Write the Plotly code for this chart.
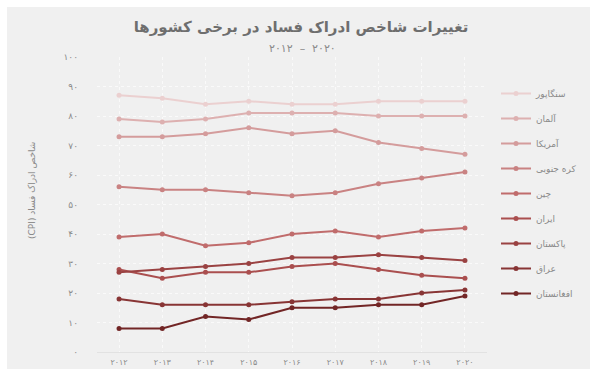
import plotly.graph_objects as go

years = [2012, 2013, 2014, 2015, 2016, 2017, 2018, 2019, 2020]
year_labels = ["۲۰۱۲", "۲۰۱۳", "۲۰۱۴", "۲۰۱۵", "۲۰۱۶", "۲۰۱۷", "۲۰۱۸", "۲۰۱۹", "۲۰۲۰"]

countries = ["سنگاپور", "آلمان", "آمریکا", "کره جنوبی", "چین", "ایران", "پاکستان", "عراق", "افغانستان"]

singapore = [87, 86, 84, 85, 84, 84, 85, 85, 85]
germany = [79, 78, 79, 81, 81, 81, 80, 80, 80]
usa = [73, 73, 74, 76, 74, 75, 71, 69, 67]
south_korea = [56, 55, 55, 54, 53, 54, 57, 59, 61]
china = [39, 40, 36, 37, 40, 41, 39, 41, 42]
iran = [28, 25, 27, 27, 29, 30, 28, 26, 25]
pakistan = [27, 28, 29, 30, 32, 32, 33, 32, 31]
iraq = [18, 16, 16, 16, 17, 18, 18, 20, 21]
afghanistan = [8, 8, 12, 11, 15, 15, 16, 16, 19]

series = [singapore, germany, usa, south_korea, china, iran, pakistan, iraq, afghanistan]
colors = ["#ebd0d0", "#ddb0b0", "#d49c9c", "#c98282", "#c06c6c", "#aa4f4f", "#9a4242", "#883535", "#722626"]

y_tickvals = [0, 10, 20, 30, 40, 50, 60, 70, 80, 90, 100]
y_ticktext = ["۰", "۱۰", "۲۰", "۳۰", "۴۰", "۵۰", "۶۰", "۷۰", "۸۰", "۹۰", "۱۰۰"]

FONT = "DejaVu Sans"
L, R, T, B = 97, 103, 57, 17
PW, PH = 590 - L - R, 369 - T - B

fig = go.Figure()
for name, vals, col in zip(countries, series, colors):
    fig.add_trace(go.Scatter(
        x=years, y=vals, name=name, mode="lines+markers",
        line=dict(color=col, width=2),
        marker=dict(color=col, size=5),
        legendgroup=name,
    ))

fig.update_layout(
    template="none",
    width=590, height=369,
    margin=dict(l=L, r=R, t=T, b=B, autoexpand=False),
    paper_bgcolor="#f0f0f0",
    plot_bgcolor="#f0f0f0",
    font=dict(family=FONT, color="#888888", size=9),
    title=dict(
        text="<b>تغییرات شاخص ادراک فساد در برخی کشورها</b>",
        x=(301 - L) / PW, xref="paper", xanchor="center",
        y=1 - 27 / 369, yanchor="middle",
        font=dict(family=FONT, size=15, color="#6e6e6e"),
    ),
    showlegend=True,
    legend=dict(
        x=1 + 9 / PW, xanchor="left", y=1 - 22 / PH, yanchor="top",
        bgcolor="rgba(0,0,0,0)",
        font=dict(family=FONT, size=9, color="#8a8a8a"),
        tracegroupgap=6,
        itemwidth=30,
    ),
    annotations=[
        dict(text="۲۰۱۲  –  ۲۰۲۰", xref="paper", yref="paper",
             x=(302 - L) / PW, y=1 + (T - 48) / PH, xanchor="center", yanchor="middle",
             showarrow=False, font=dict(family=FONT, size=11, color="#8a8a8a")),
        dict(text="(CPI) شاخص ادراک فساد", xref="paper", yref="paper",
             x=-(L - 32) / PW, y=1 - (191 - T) / PH, xanchor="center", yanchor="middle",
             textangle=-90, showarrow=False,
             font=dict(family=FONT, size=9, color="#8a8a8a")),
    ],
    shapes=[
        dict(type="rect", xref="paper", yref="paper",
             x0=-L / PW, x1=1 + R / PW, y0=1 + (T - 7) / PH, y1=1 + T / PH,
             fillcolor="white", line=dict(width=0), layer="below"),
        dict(type="rect", xref="paper", yref="paper",
             x0=-L / PW, x1=-(L - 7) / PW, y0=-B / PH, y1=1 + T / PH,
             fillcolor="white", line=dict(width=0), layer="below"),
    ],
)

fig.update_xaxes(
    range=[2011.49, 2020.51], automargin=False,
    tickvals=years, ticktext=year_labels,
    showgrid=True, gridcolor="#fafafa", griddash="dot", gridwidth=1,
    zeroline=False, showline=False,
    tickfont=dict(family=FONT, size=8, color="#8a8a8a"),
    ticks="", ticklabelstandoff=4,
)
fig.update_yaxes(
    range=[0, 100], automargin=False,
    tickvals=y_tickvals, ticktext=y_ticktext,
    showgrid=True, gridcolor="#fafafa", griddash="dot", gridwidth=1,
    zeroline=True, zerolinecolor="#e2e2e2", zerolinewidth=1,
    showline=False,
    tickfont=dict(family=FONT, size=9, color="#8a8a8a"),
    ticks="", ticklabelstandoff=18,
)

fig.write_html("out.html")
